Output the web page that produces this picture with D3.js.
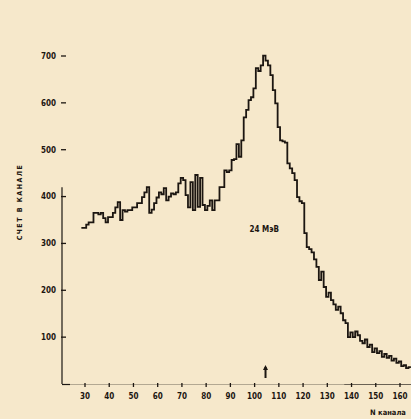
<!DOCTYPE html>
<html>
<head>
<meta charset="utf-8">
<script src="https://cdn.jsdelivr.net/npm/d3@7"></script>
<style>
  html, body { margin: 0; padding: 0; background: #f6e8cb; }
  svg { display: block; }
  text { font-family: "DejaVu Sans Condensed", "DejaVu Sans", sans-serif; font-weight: bold; fill: #1c1611; }
</style>
</head>
<body>
<script>
var w = 411,
    h = 419;

// Channel numbers (first channel 29) and counts
var firstChannel = 29;
var counts = [
  333, 333, 340, 345, 345, 365, 365, 362, 365, 354,   // 29-38
  345, 356, 356, 365, 377, 388, 350, 371, 368, 371,   // 39-48
  371, 377, 377, 386, 386, 399, 409, 420, 365, 372,   // 49-58
  386, 398, 409, 405, 418, 392, 400, 407, 405, 409,   // 59-68
  428, 440, 435, 403, 377, 431, 371, 446, 378, 440,   // 69-78
  382, 371, 380, 392, 371, 392, 392, 420, 420, 456,   // 79-88
  452, 456, 478, 480, 512, 485, 520, 569, 585, 606,   // 89-98
  612, 631, 674, 668, 680, 701, 690, 680, 659, 627,   // 99-108
  599, 548, 520, 518, 515, 471, 460, 450, 435, 399,   // 109-118
  390, 386, 322, 292, 288, 281, 266, 250, 222, 240,   // 119-128
  207, 186, 195, 179, 170, 158, 165, 151, 136, 130,   // 129-138
  100, 110, 100, 112, 104, 92, 87, 95, 79, 84,        // 139-148
  68, 76, 66, 70, 58, 64, 56, 60, 50, 54,             // 149-158
  45, 48, 38, 40, 34, 36                              // 159-164
];
var xTicks = [30, 40, 50, 60, 70, 80, 90, 100, 110, 120, 130, 140, 150, 160];
var yTicks = [100, 200, 300, 400, 500, 600, 700];
var markChannel = 104.5;

var svg = d3.select('body')
            .append('svg')
            .attr('width', w)
            .attr('height', h);

var x = d3.scaleLinear()
          .domain([30, 160])
          .range([85, 400]);

var y = d3.scaleLinear()
          .domain([0, 700])
          .range([384, 56]);

var ink = '#1c1611';

// y axis: line only from 0 up to just above 400, ticks as short dashes
svg.append('line')
   .attr('x1', 62).attr('x2', 62)
   .attr('y1', y(0)).attr('y2', y(420))
   .style('stroke', ink)
   .style('stroke-width', 1.2);

var yt = svg.selectAll('g.ytick')
            .data(yTicks)
            .enter()
            .append('g')
            .attr('class', 'ytick')
            .attr('transform', function(d) { return 'translate(0,' + y(d) + ')'; });

yt.append('line')
  .attr('x1', 61).attr('x2', 66)
  .style('stroke', ink)
  .style('stroke-width', 1.3);

yt.append('text')
  .attr('x', 56)
  .attr('dy', '0.35em')
  .attr('text-anchor', 'end')
  .style('font-size', '8px')
  .text(function(d) { return d; });

// x axis: faded line, small tick dots
svg.append('line')
   .attr('x1', 62).attr('x2', 411)
   .attr('y1', 384.5).attr('y2', 384.5)
   .style('stroke', ink)
   .style('stroke-width', 1)
   .style('opacity', 0.3);

svg.append('line')
   .attr('x1', 62).attr('x2', 70)
   .attr('y1', 384.5).attr('y2', 384.5)
   .style('stroke', ink)
   .style('stroke-width', 1.2);

svg.append('line')
   .attr('x1', x(137)).attr('x2', 411)
   .attr('y1', 384.5).attr('y2', 384.5)
   .style('stroke', ink)
   .style('stroke-width', 0.8)
   .style('opacity', 0.6);

var xt = svg.selectAll('g.xtick')
            .data(xTicks)
            .enter()
            .append('g')
            .attr('class', 'xtick')
            .attr('transform', function(d) { return 'translate(' + x(d) + ',0)'; });

xt.append('line')
  .attr('y1', 383).attr('y2', 387)
  .style('stroke', ink)
  .style('stroke-width', 1.3);

xt.append('text')
  .attr('y', 399)
  .attr('text-anchor', 'middle')
  .style('font-size', '8px')
  .text(function(d) { return d; });

// axis titles
svg.append('text')
   .attr('transform', 'translate(22,202) rotate(-90)')
   .attr('text-anchor', 'middle')
   .style('font-size', '7px')
   .style('letter-spacing', '1.5px')
   .text('СЧЕТ В КАНАЛЕ');

svg.append('text')
   .attr('x', 388)
   .attr('y', 415)
   .attr('text-anchor', 'middle')
   .style('font-size', '7.5px')
   .text('N канала');

// histogram as a step line
var bins = counts.map(function(v, i) {
  return { c: firstChannel + i - 0.5, v: v };
});
bins.push({ c: firstChannel + counts.length - 0.5, v: counts[counts.length - 1] });

var line = d3.line()
             .x(function(d) { return x(d.c); })
             .y(function(d) { return y(d.v); })
             .curve(d3.curveStepAfter);

svg.append('path')
   .datum(bins)
   .attr('d', line)
   .style('fill', 'none')
   .style('stroke', ink)
   .style('stroke-width', 1.8)
   .style('stroke-linejoin', 'miter');

// energy label and peak marker
svg.append('text')
   .attr('x', x(104))
   .attr('y', 232)
   .attr('text-anchor', 'middle')
   .style('font-size', '8px')
   .text('24 МэВ');

svg.append('line')
   .attr('x1', x(markChannel)).attr('x2', x(markChannel))
   .attr('y1', 367).attr('y2', 378)
   .style('stroke', ink)
   .style('stroke-width', 2);

svg.append('path')
   .attr('d', d3.line()([[x(markChannel) - 2.5, 370], [x(markChannel), 365], [x(markChannel) + 2.5, 370]]))
   .style('fill', ink);
</script>
</body>
</html>
